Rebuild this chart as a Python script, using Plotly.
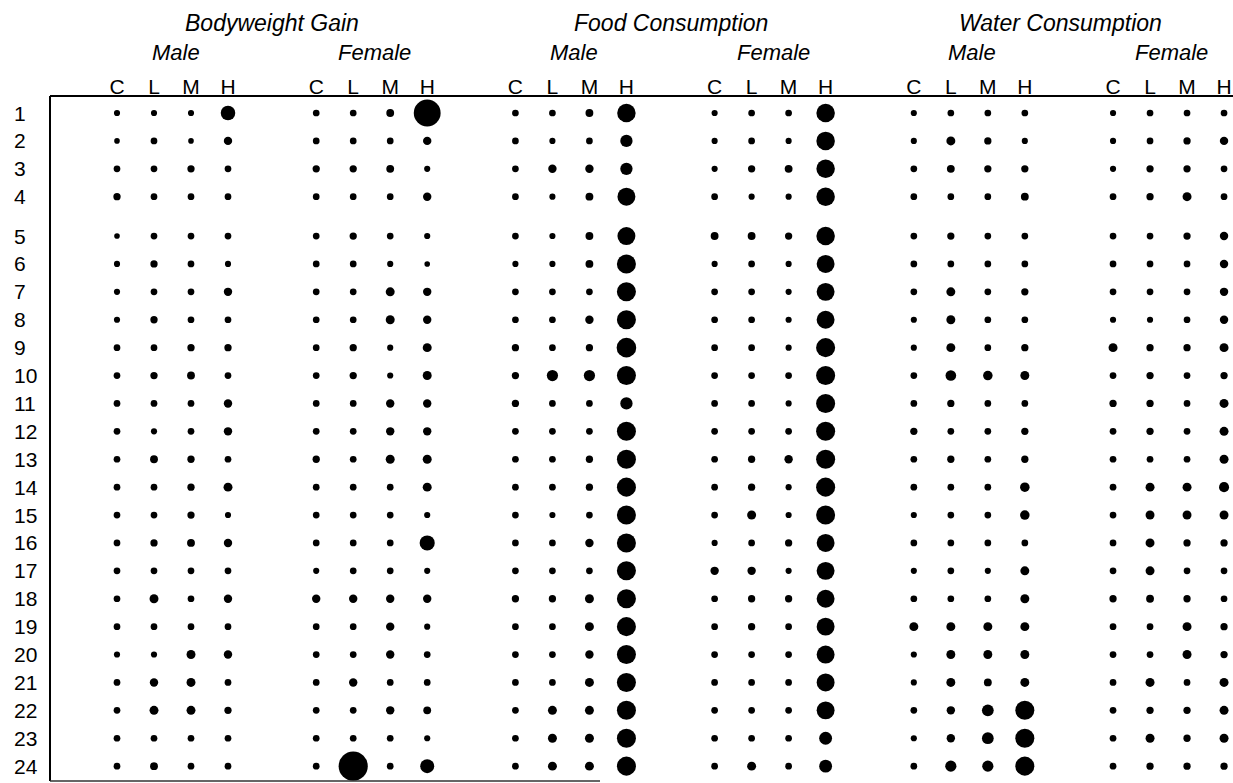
import plotly.graph_objects as go

# ---- data -------------------------------------------------------------
measures = ["Bodyweight Gain", "Food Consumption", "Water Consumption"]
sexes = ["Male", "Female"]
doses = ["C", "L", "M", "H"]
animals = list(range(1, 25))

# dot magnitude per animal (rows) and dose group C, L, M, H (columns)
bodyweight_male = [
    [5.5, 5.5, 5.5, 13], [5, 6, 5, 7.5], [6, 6, 6.5, 6], [6.5, 6, 6, 6],
    [5, 6, 6, 6], [5.5, 6.5, 6, 5.5], [5.5, 6, 6, 7.5], [5.5, 6.5, 6, 6],
    [6, 6, 6.5, 6.5], [6, 6.5, 7, 6], [6, 6, 6, 7.5], [6, 5.5, 6, 7.5],
    [6, 7, 6.5, 6], [6, 6, 6.5, 8], [6, 6, 6.5, 5.5], [6, 6.5, 7, 7.5],
    [6, 6, 6, 6], [6, 8, 6, 7.5], [6, 6, 6, 6], [5.5, 5.5, 8, 7.5],
    [6, 7.5, 8, 6], [6, 8, 8, 6.5], [6, 6, 6, 6], [6, 7, 6, 6],
]
bodyweight_female = [
    [6, 6, 7, 24], [6, 6, 6, 7.5], [6.5, 6.5, 7, 5.5], [6, 6, 6, 7.5],
    [6, 6.5, 6, 5.5], [6, 6, 5.5, 5], [6, 6, 8, 7.5], [6, 6, 8, 7.5],
    [6, 6.5, 5.5, 8], [6, 6.5, 5.5, 8], [6, 6, 7.5, 7.5], [6, 6, 7.5, 7.5],
    [6.5, 6, 8, 8], [6, 6, 6, 8], [6, 6, 6, 5.5], [6, 6, 6, 13.5],
    [5.5, 6, 6, 5.5], [7.5, 7.5, 7.5, 7.5], [6, 6, 7.5, 5.5], [6, 6, 7.5, 6],
    [6, 7.5, 6, 6], [6, 6, 7.5, 7], [6, 6, 6, 5.5], [6, 26, 6, 12.5],
]
food_male = [
    [6, 6, 7, 16.5], [6, 5.5, 6, 11], [6, 7.5, 7.5, 11], [6, 5.5, 7, 16],
    [6, 5.5, 7, 16], [5.5, 5.5, 7, 17], [6, 6, 6, 17], [6, 6, 7.5, 17],
    [6.5, 6, 6.5, 17.5], [6.5, 10, 10, 17], [6.5, 6, 6, 11], [6, 6, 6, 17],
    [6, 6, 6.5, 17], [6, 6, 6.5, 17], [6, 5.5, 6, 17], [6, 6, 7.5, 17],
    [6, 6, 6, 17], [6.5, 6.5, 8, 17], [6, 6, 8, 17], [6, 6, 7.5, 17],
    [6, 6, 8, 17], [6, 8, 8, 17], [6, 8, 8, 17], [6, 8, 8, 17],
]
food_female = [
    [5.5, 6, 6, 16.5], [5.5, 6, 5.5, 16.5], [5.5, 6.5, 7, 16.5], [6, 5.5, 5.5, 16.5],
    [7, 7, 6.5, 16.5], [5.5, 6, 5.5, 16], [6, 6, 5.5, 16], [6, 6, 5.5, 16],
    [6, 6, 5.5, 17], [6, 6, 6, 17], [6, 6, 5.5, 17], [6, 6, 6, 17],
    [6, 6.5, 7.5, 17], [6, 6.5, 5.5, 17], [6, 8, 5.5, 17], [5.5, 6, 6.5, 16],
    [7.5, 7.5, 5.5, 16], [6, 6.5, 6.5, 16], [6, 6.5, 6, 16], [6, 6, 6, 16],
    [6, 6, 6, 16], [6, 6, 6, 16], [6, 6, 6, 11.5], [6, 8, 6, 11.5],
]
water_male = [
    [5.5, 6, 6, 6], [5.5, 8, 6.5, 5.5], [6, 7, 6.5, 6.5], [6, 6, 6, 7],
    [6, 6.5, 6, 6], [6, 6, 6, 6], [6, 8, 6, 6.5], [5.5, 8, 6, 6],
    [5.5, 8, 6, 6.5], [6, 9.5, 8.5, 8], [6, 6.5, 6, 6], [6.5, 6, 6, 6.5],
    [6, 6.5, 6, 6.5], [6, 6, 6, 8.5], [5.5, 6, 6, 8.5], [6, 6, 6, 6],
    [5.5, 6, 5.5, 8], [6, 6, 6, 8], [8, 8, 8, 8], [5.5, 8, 8, 8],
    [5.5, 8, 7, 8], [6, 7.5, 10.5, 17], [5.5, 7.5, 10.5, 17], [6, 10, 10, 17],
]
water_female = [
    [5.5, 6, 6, 6], [5.5, 6, 6.5, 7.5], [5.5, 6.5, 6.5, 6], [6, 6.5, 8, 6],
    [6, 6, 6.5, 7.5], [6, 6, 6, 7.5], [6, 6, 6, 7.5], [5.5, 5.5, 6, 7.5],
    [8, 6.5, 6.5, 8], [6, 6.5, 6, 6.5], [6.5, 6.5, 6, 8], [6, 6.5, 6, 8],
    [6, 6, 6, 8], [6, 8, 8, 9], [6, 8, 8, 8], [6, 8, 6.5, 6.5],
    [6, 8, 6, 6], [6.5, 7, 6.5, 6], [6, 6, 8, 6.5], [6, 6, 8, 6.5],
    [6, 8, 6, 8], [6, 6.5, 6.5, 8], [6, 8, 6.5, 8], [6, 6.5, 6.5, 6.5],
]

panels = [bodyweight_male, bodyweight_female, food_male, food_female,
          water_male, water_female]

# ---- layout constants -------------------------------------------------
W, H = 1233, 783
FRAME_LEFT, FRAME_TOP, FRAME_BOTTOM, BOTTOM_RULE_END = 50, 96, 781, 600
COL_PX, FIRST_COL_PX = 37.0, 117.0      # dose-column pitch / first column
GROUP_STEP = 5.384                      # group pitch in dose-column units
ROW_PX, FIRST_ROW_PX = 27.9, 113.0      # animal row pitch / first row
BLOCK_AFTER, BLOCK_GAP = 4, 0.41        # extra space after the first block of rows
DOT_SCALE = 1.12
TITLE_SHIFT = [0, 0, -8]                # small nudges for the measure titles (px)

UP = "Liberation Sans, Arial, sans-serif"
INK = "#000000"


def row_pos(animal):
    return animal + (BLOCK_GAP if animal > BLOCK_AFTER else 0.0)


fig = go.Figure()

tickvals, ticktext = [], []
for g, values in enumerate(panels):
    xs, ys, sz = [], [], []
    for animal, row in zip(animals, values):
        for d, v in enumerate(row):
            xs.append(g * GROUP_STEP + d)
            ys.append(row_pos(animal))
            sz.append(v * DOT_SCALE)
    fig.add_trace(go.Scatter(
        x=xs, y=ys, mode="markers", opacity=1,
        marker=dict(size=sz, sizemode="diameter", color=INK, opacity=1,
                    line=dict(width=0)),
        name=f"{measures[g // 2]} – {sexes[g % 2]}",
        hoverinfo="skip",
    ))
    for d, lab in enumerate(doses):
        tickvals.append(g * GROUP_STEP + d)
        ticktext.append(lab)

# headers: sex above each group, measure above each pair of groups
ann = []
for g in range(len(panels)):
    ann.append(dict(x=g * GROUP_STEP + 1.5, xref="x", xshift=3,
                    y=1 - 53 / H, yref="paper", yanchor="middle",
                    text=sexes[g % 2], showarrow=False,
                    font=dict(family=UP, size=22, style="italic", color=INK)))
for m, name in enumerate(measures):
    ann.append(dict(x=(2 * m + 0.5) * GROUP_STEP + 1.5, xref="x",
                    xshift=TITLE_SHIFT[m],
                    y=1 - 23 / H, yref="paper", yanchor="middle",
                    text=name, showarrow=False,
                    font=dict(family=UP, size=23, style="italic", color=INK)))
for animal in animals:
    ann.append(dict(x=12 / W, xref="paper", xanchor="left",
                    y=row_pos(animal), yref="y", yanchor="middle",
                    text=str(animal), showarrow=False,
                    font=dict(family=UP, size=21, color=INK)))

top = 1 - FRAME_TOP / H
bottom = 1 - FRAME_BOTTOM / H
left = FRAME_LEFT / W
shapes = [
    dict(type="line", xref="paper", yref="paper", x0=left, x1=1, y0=top, y1=top,
         line=dict(color=INK, width=2)),
    dict(type="line", xref="paper", yref="paper", x0=left, x1=left, y0=top, y1=bottom,
         line=dict(color=INK, width=2)),
    dict(type="line", xref="paper", yref="paper", x0=left, x1=BOTTOM_RULE_END / W,
         y0=bottom, y1=bottom, line=dict(color="#333", width=1.5)),
]

plot_h = H - FRAME_TOP
y_top = 1 - (FIRST_ROW_PX - FRAME_TOP) / ROW_PX
y_bottom = y_top + plot_h / ROW_PX
fig.update_layout(
    width=W, height=H,
    margin=dict(l=0, r=0, t=0, b=0),
    paper_bgcolor="white", plot_bgcolor="white",
    showlegend=False,
    annotations=ann, shapes=shapes,
    xaxis=dict(domain=[0, 1],
               range=[-FIRST_COL_PX / COL_PX, (W - FIRST_COL_PX) / COL_PX],
               side="top", tickmode="array", tickvals=tickvals, ticktext=ticktext,
               tickfont=dict(family=UP, size=21, color=INK),
               ticklabeloverflow="allow", ticklabelstandoff=-3,
               ticks="", showgrid=False, zeroline=False, showline=False),
    yaxis=dict(domain=[0, top], range=[y_bottom, y_top],
               showticklabels=False, ticks="", showgrid=False,
               zeroline=False, showline=False),
)

fig.write_html("out.html")
